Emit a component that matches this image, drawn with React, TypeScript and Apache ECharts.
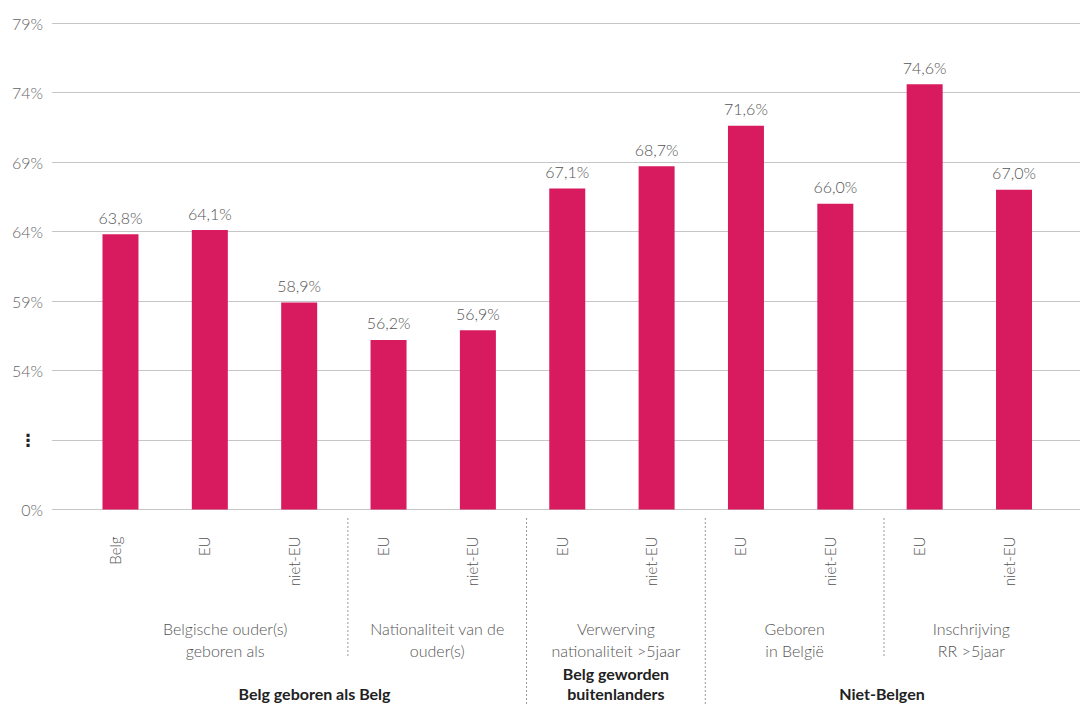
import React, { useEffect, useRef } from 'react';
import * as echarts from 'echarts';

const categories = ['Belg', 'EU', 'niet-EU', 'EU', 'niet-EU', 'EU', 'niet-EU', 'EU', 'niet-EU', 'EU', 'niet-EU'];
const values = [63.8, 64.1, 58.9, 56.2, 56.9, 67.1, 68.7, 71.6, 66.0, 74.6, 67.0];

const yMin = 44;
const yMax = 79;
const yStep = 5;
const yZeroLabel = '0%';
const yBreakLabel = '⋮';

const subGroups = [
  { label: 'Belgische ouder(s)\ngeboren als', first: 0, last: 2 },
  { label: 'Nationaliteit van de\nouder(s)', first: 3, last: 4 },
  { label: 'Verwerving\nnationaliteit >5jaar', first: 5, last: 6 },
  { label: 'Geboren\nin België', first: 7, last: 8 },
  { label: 'Inschrijving\nRR >5jaar', first: 9, last: 10 },
];

const mainGroups = [
  { label: 'Belg geboren als Belg', first: 0, last: 4 },
  { label: 'Belg geworden\nbuitenlanders', first: 5, last: 6 },
  { label: 'Niet-Belgen', first: 7, last: 10 },
];

const BAR_COLOR = '#D81B5E';
const FONT = 'Lato, "Open Sans", sans-serif';
const BAR_WIDTH = 36;

export default function App() {
  const ref = useRef<HTMLDivElement>(null);

  useEffect(() => {
    if (!ref.current) return;
    const chart = echarts.init(ref.current, null, { renderer: 'svg' });

    const gridTop = 23;
    const gridBottom = 194.5;

    chart.setOption({
      animation: false,
      backgroundColor: '#ffffff',
      grid: [
        { left: 52, right: 2, top: gridTop, bottom: gridBottom, containLabel: false, outerBoundsMode: 'none' },
        { left: 75.8, right: 23.3, top: gridTop, bottom: gridBottom, containLabel: false, outerBoundsMode: 'none' },
      ],
      xAxis: [
        { type: 'value', gridIndex: 0, min: 0, max: 1, show: false },
        {
          type: 'category',
          gridIndex: 1,
          data: categories,
          axisLine: { show: false },
          axisTick: { show: false },
          splitLine: { show: false },
          axisLabel: {
            rotate: 90,
            margin: 27,
            interval: 0,
            color: '#555',
            fontSize: 15,
            fontFamily: FONT,
            fontWeight: 300,
            verticalAlign: 'bottom',
            lineHeight: 11,
          },
        },
      ],
      yAxis: [
        {
          type: 'value',
          gridIndex: 0,
          min: yMin,
          max: yMax,
          interval: yStep,
          axisLine: { show: false },
          axisTick: { show: false },
          splitLine: { show: true, lineStyle: { color: '#c6c6c6', width: 1 } },
          axisLabel: {
            margin: 9,
            color: '#666',
            fontSize: 16,
            fontFamily: FONT,
            fontWeight: 300,
            formatter: (v: number) => {
              if (v === yMin) return yZeroLabel;
              if (v === yMin + yStep) return '{dots|' + yBreakLabel + '}';
              return v + '%';
            },
            rich: {
              dots: {
                fontFamily: '"DejaVu Sans", sans-serif',
                fontSize: 17,
                fontWeight: 'bold',
                color: '#222',
                width: 30,
                align: 'center',
              },
            },
          },
        },
        {
          type: 'value',
          gridIndex: 1,
          min: yMin,
          max: yMax,
          interval: yStep,
          show: false,
          splitLine: { show: false },
        },
      ],
      series: [
        {
          type: 'bar',
          xAxisIndex: 1,
          yAxisIndex: 1,
          data: values,
          barWidth: BAR_WIDTH,
          clip: true,
          itemStyle: { color: BAR_COLOR },
          label: {
            show: true,
            position: 'top',
            distance: 9,
            color: '#555',
            fontSize: 16,
            fontFamily: FONT,
            fontWeight: 300,
            formatter: (p: any) => Number(p.value).toFixed(1).replace('.', ',') + '%',
          },
        },
      ],
    });

    const px = (i: number) => chart.convertToPixel({ xAxisIndex: 1 }, i) as number;
    const axisY = chart.convertToPixel({ yAxisIndex: 1 }, yMin) as number;
    const n = categories.length;
    const band = px(1) - px(0);
    const nudge = 4;
    const boundary = (i: number) => (px(i) + px(i + 1)) / 2 + nudge;
    const leftEdge = (first: number) => (first === 0 ? px(0) - BAR_WIDTH / 2 : boundary(first - 1));
    const rightEdge = (last: number) => (last === n - 1 ? px(n - 1) + band / 2 : boundary(last));

    const mainEnds = new Set(mainGroups.map((g) => g.last));
    const graphics: any[] = [];

    subGroups.forEach((g) => {
      if (g.last < n - 1) {
        const x = boundary(g.last);
        const full = mainEnds.has(g.last);
        graphics.push({
          type: 'line',
          shape: { x1: x, y1: axisY + 8.5, x2: x, y2: full ? 704 : axisY + 147.5 },
          style: { stroke: '#999', lineWidth: 1, lineDash: [2, 2] },
        });
      }
      graphics.push({
        type: 'text',
        x: (leftEdge(g.first) + rightEdge(g.last)) / 2,
        y: axisY + 108,
        style: {
          text: g.label,
          fill: '#555',
          fontSize: 16,
          fontFamily: FONT,
          fontWeight: 300,
          lineHeight: 22,
          align: 'center',
          verticalAlign: 'top',
        },
      });
    });

    mainGroups.forEach((g) => {
      graphics.push({
        type: 'text',
        x: (leftEdge(g.first) + rightEdge(g.last)) / 2,
        y: 703,
        style: {
          text: g.label,
          fill: '#222',
          fontSize: 16,
          fontFamily: FONT,
          fontWeight: 700,
          lineHeight: 20,
          align: 'center',
          verticalAlign: 'bottom',
        },
      });
    });

    chart.setOption({ graphic: graphics });

    return () => {
      chart.dispose();
    };
  }, []);

  return (
    <div
      ref={ref}
      style={{ position: 'absolute', left: 0, top: 0, width: 1082, height: 704 }}
    />
  );
}
